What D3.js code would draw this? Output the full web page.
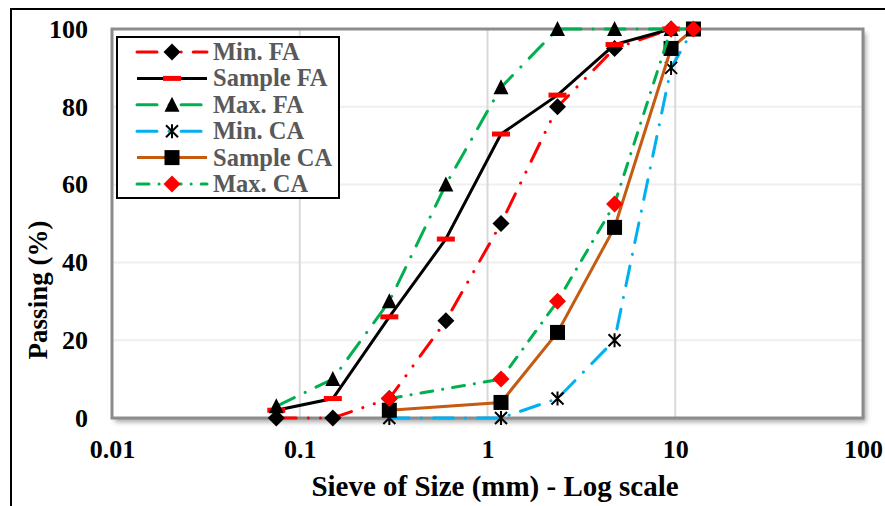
<!DOCTYPE html>
<html>
<head>
<meta charset="utf-8">
<script src="https://cdn.jsdelivr.net/npm/d3@7"></script>
<style>
  body { margin: 0; background: #fff; }
  svg { display: block; }
  text { font-family: "Liberation Serif", "Times New Roman", serif; font-weight: bold; }
</style>
</head>
<body>
<svg width="885" height="506"></svg>
<script>
// sieve sizes (mm) and % passing for each curve (null = no point)
var sieveSizes = [0.075, 0.15, 0.3, 0.6, 1.18, 2.36, 4.75, 9.5, 12.5];
var minFA    = [0, 0, 5, 25, 50, 80, 95, 100, null];
var sampleFA = [2, 5, 26, 46, 73, 83, 96, 100, null];
var maxFA    = [3, 10, 30, 60, 85, 100, 100, 100, null];
var minCA    = [null, null, 0, null, 0, 5, 20, 90, 100];
var sampleCA = [null, null, 2, null, 4, 22, 49, 95, 100];
var maxCA    = [null, null, 5, null, 10, 30, 55, 100, 100];

var seriesNames = ['Min. FA', 'Sample FA', 'Max. FA', 'Min. CA', 'Sample CA', 'Max. CA'];
var xTicks = [0.01, 0.1, 1, 10, 100];
var yTicks = [0, 20, 40, 60, 80, 100];
var xTitle = 'Sieve of Size (mm) - Log scale',
    yTitle = 'Passing (%)';

// looks for each series
var looks = [
  {vals: minFA,    color: '#ff0000', dash: '20,12,0.1,12,0.1,12', marker: 'diamond', fill: '#000'},
  {vals: sampleFA, color: '#000000', dash: null,                  marker: 'dash',    fill: '#ff0000'},
  {vals: maxFA,    color: '#00b050', dash: '20,12,0.1,12',        marker: 'triangle',fill: '#000'},
  {vals: minCA,    color: '#00b0f0', dash: '20,12,0.1,12',        marker: 'star',    fill: '#000'},
  {vals: sampleCA, color: '#c55a11', dash: null,                  marker: 'square',  fill: '#000'},
  {vals: maxCA,    color: '#00b050', dash: '12,10,0.1,10',        marker: 'diamond', fill: '#ff0000'}
];

var svg = d3.select('svg');

var x = d3.scaleLog().domain([0.01, 100]).range([112, 863]),
    y = d3.scaleLinear().domain([0, 100]).range([418, 29]);

// drop shadow for plot area
var defs = svg.append('defs');
var f = defs.append('filter').attr('id', 'shadow')
  .attr('x', '-5%').attr('y', '-5%').attr('width', '110%').attr('height', '115%');
f.append('feDropShadow').attr('dx', 3).attr('dy', 4).attr('stdDeviation', 2.5)
  .attr('flood-color', '#000').attr('flood-opacity', 0.35);

// outer frame (left + top only visible)
svg.append('path')
  .attr('d', 'M11,506 L11,9 L885,9')
  .attr('fill', 'none').attr('stroke', '#000').attr('stroke-width', 2);

// plot area
svg.append('rect')
  .attr('x', x(0.01)).attr('y', y(100))
  .attr('width', x(100) - x(0.01)).attr('height', y(0) - y(100))
  .attr('fill', '#fff').attr('filter', 'url(#shadow)');

var grid = svg.append('g').attr('class', 'grid');
grid.selectAll('line.h')
  .data(yTicks.slice(1, -1))
  .enter().append('line')
  .attr('x1', x(0.01)).attr('x2', x(100))
  .attr('y1', function(d){ return y(d); }).attr('y2', function(d){ return y(d); })
  .attr('stroke', '#efefef').attr('stroke-width', 2);
grid.selectAll('line.v')
  .data(xTicks.slice(1, -1))
  .enter().append('line')
  .attr('y1', y(0)).attr('y2', y(100))
  .attr('x1', function(d){ return x(d); }).attr('x2', function(d){ return x(d); })
  .attr('stroke', '#d9d9d9').attr('stroke-width', 2);

svg.append('rect')
  .attr('x', x(0.01)).attr('y', y(100))
  .attr('width', x(100) - x(0.01)).attr('height', y(0) - y(100))
  .attr('fill', 'none').attr('stroke', '#8c8c8c').attr('stroke-width', 3);

// axes
var xAxis = svg.append('g')
  .attr('transform', 'translate(0,' + y(0) + ')')
  .call(d3.axisBottom(x).tickValues(xTicks).tickSize(0).tickPadding(22)
    .tickFormat(function(d){ return String(d); }));
var yAxis = svg.append('g')
  .attr('transform', 'translate(' + x(0.01) + ',0)')
  .call(d3.axisLeft(y).tickValues(yTicks).tickSize(0).tickPadding(24));
[xAxis, yAxis].forEach(function(a){
  a.select('.domain').remove();
  a.selectAll('text')
    .attr('fill', '#000')
    .style('font-size', '26px')
    .style('font-family', '"Liberation Serif", "Times New Roman", serif')
    .style('font-weight', 'bold');
});

svg.append('text')
  .attr('x', 495).attr('y', 496)
  .attr('text-anchor', 'middle')
  .style('font-size', '29px')
  .text(xTitle);
svg.append('text')
  .attr('transform', 'translate(47,290) rotate(-90)')
  .attr('text-anchor', 'middle')
  .style('font-size', '27px')
  .text(yTitle);

// marker drawing
function drawMarker(g, type, fill) {
  if (type === 'diamond') {
    g.append('path').attr('d', 'M0,-8.5L8.5,0L0,8.5L-8.5,0Z').attr('fill', fill);
  } else if (type === 'triangle') {
    g.append('path').attr('d', 'M0,-8L7.5,7L-7.5,7Z').attr('fill', fill);
  } else if (type === 'square') {
    g.append('rect').attr('x', -7.5).attr('y', -7.5).attr('width', 15).attr('height', 15).attr('fill', fill);
  } else if (type === 'dash') {
    g.append('rect').attr('x', -9).attr('y', -2.5).attr('width', 18).attr('height', 5).attr('fill', fill);
  } else if (type === 'star') {
    g.append('path').attr('d', 'M-6,-6L6,6M6,-6L-6,6M0,-7L0,7')
      .attr('stroke', fill).attr('stroke-width', 2).attr('fill', 'none');
  }
}

var line = d3.line()
  .x(function(d){ return x(d.size); })
  .y(function(d){ return y(d.pass); });

var plot = svg.append('g').attr('class', 'series');

looks.forEach(function(s, i){
  var pts = sieveSizes.map(function(sz, j){ return {size: sz, pass: s.vals[j]}; })
    .filter(function(d){ return d.pass != null; });

  var g = plot.append('g').attr('class', 's-' + i);
  g.append('path')
    .datum(pts)
    .attr('d', line)
    .attr('fill', 'none')
    .attr('stroke', s.color)
    .attr('stroke-width', 3)
    .attr('stroke-linecap', s.dash ? 'round' : 'butt')
    .attr('stroke-dasharray', s.dash);

  g.selectAll('g.m')
    .data(pts)
    .enter().append('g')
    .attr('transform', function(d){ return 'translate(' + x(d.size) + ',' + y(d.pass) + ')'; })
    .each(function(){ drawMarker(d3.select(this), s.marker, s.fill); });
});

// legend
var leg = svg.append('g').attr('class', 'legend');
leg.append('rect')
  .attr('x', 117).attr('y', 37).attr('width', 222).attr('height', 161)
  .attr('fill', '#fff').attr('stroke', '#000').attr('stroke-width', 2);

seriesNames.forEach(function(name, i){
  var s = looks[i],
      yy = 52 + i * 26.4;
  var row = leg.append('g');
  row.append('line')
    .attr('x1', 137).attr('x2', 207).attr('y1', yy).attr('y2', yy)
    .attr('stroke', s.color).attr('stroke-width', 3)
    .attr('stroke-linecap', s.dash ? 'round' : 'butt')
    .attr('stroke-dasharray', s.dash);
  drawMarker(row.append('g').attr('transform', 'translate(172,' + yy + ')'), s.marker, s.fill);
  row.append('text')
    .attr('x', 213).attr('y', yy + 8)
    .attr('fill', '#595959')
    .style('font-size', '24.5px')
    .text(name);
});
</script>
</body>
</html>
